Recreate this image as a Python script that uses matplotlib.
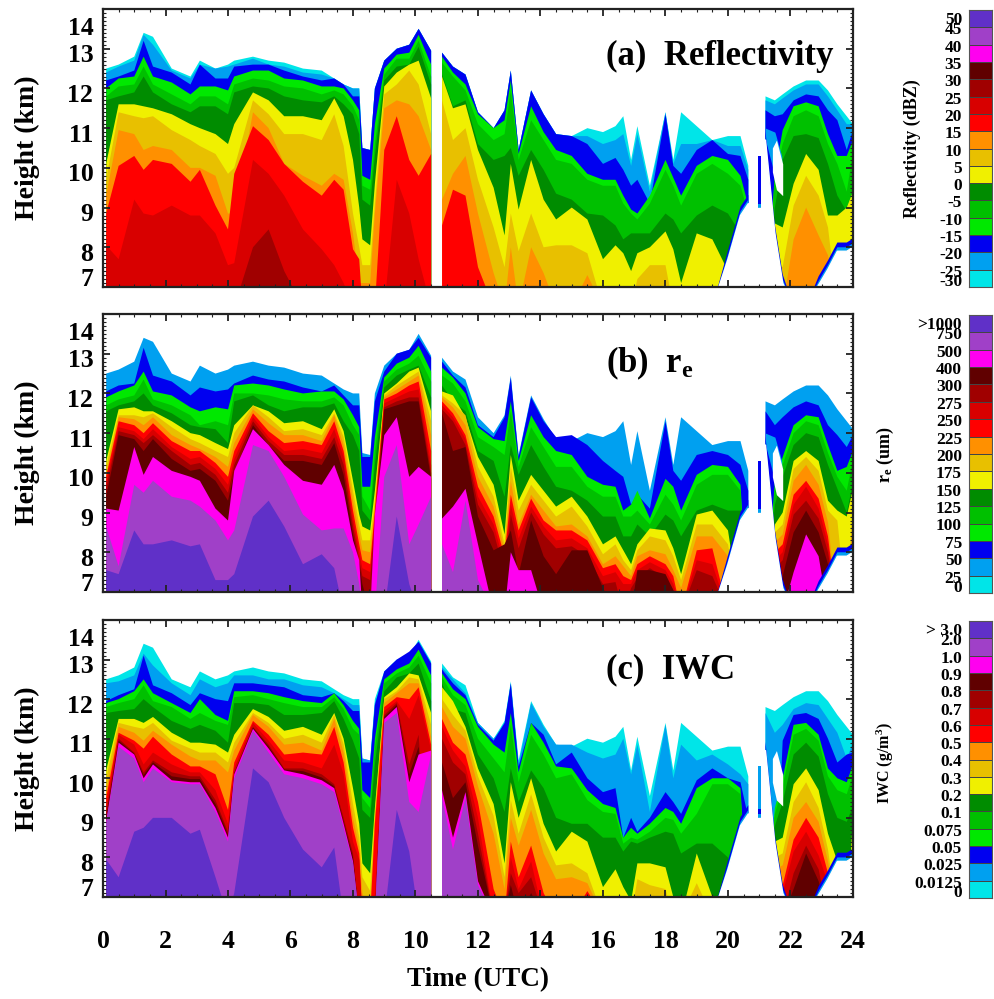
import numpy as np
import matplotlib
matplotlib.use('Agg')
import matplotlib.pyplot as plt
from matplotlib.transforms import ScaledTranslation

plt.rcParams['font.family'] = ['Liberation Serif', 'DejaVu Serif']
plt.rcParams['font.weight'] = 'bold'
plt.rcParams['mathtext.fontset'] = 'custom'
plt.rcParams['mathtext.rm'] = 'Liberation Serif:bold'
plt.rcParams['mathtext.it'] = 'Liberation Serif:bold'
plt.rcParams['mathtext.bf'] = 'Liberation Serif:bold'

N = float('nan')
F = 6.5  # band absent (below the axis)

time_a = [0.1,0.5,1.0,1.3,1.6,2.2,2.8,3.1,3.6,4.0,4.2,4.8,5.3,5.8,6.4,7.0,7.4,7.7,8.0,8.2,8.3,8.55,8.7,9.0,9.4,9.8,10.1,10.5]
time_b = [10.85,11.2,11.6,12.0,12.5,12.85,13.05,13.3,13.7,14.1,14.5,15,15.5,16,16.4,16.65,16.9,17.1,17.5,18,18.25,18.5,19,19.5,20,20.4,20.65]
time_c = [20.95,21.05]
time_d = [21.2,21.5,21.75,22.1,22.5,22.9,23.2,23.5,23.8,24]
times = time_a + [10.7] + time_b + [20.8] + time_c + [21.12] + time_d


def band(a, b=(), c=(), d=()):
    """Join the four time segments; trailing knots not listed have no band."""
    out = []
    for seg, n, gap in ((a, 28, True), (b, 27, True), (c, 2, True), (d, 10, False)):
        seg = list(seg) + [F] * (n - len(seg))
        out += seg + ([N] if gap else [])
    return out[:len(times)]


cloud_top = band(
    [12.5,12.6,12.8,13.4,13.3,12.5,12.3,12.7,12.5,12.6,12.7,12.8,12.7,12.65,12.5,12.45,12.25,12.1,12.0,12.0,10.5,10.45,12.0,12.7,13.0,13.1,13.5,12.95],
    [12.9,12.55,12.35,11.4,11.0,11.45,12.45,10.45,11.95,11.35,10.85,10.8,11.0,10.9,11.05,11.3,10.2,11.05,9.55,11.4,10.2,11.4,11.05,10.7,10.8,10.8,10.05],
    [10.3,10.3],
    [11.8,11.7,11.85,12.05,12.2,12.2,11.95,11.6,11.3,11.1])

cloud_base = band(
    [F]*28,
    [F]*24 + [7.7,8.8,9.1],
    [9.0,9.0],
    [10.7,8.35,7.1,F,F,7.05,7.45,7.9,7.9,8.0])

hole_t = [21.42,21.55,21.75]
hole_top = [10.5,10.7,10.1]
hole_bot = [9.9,9.45,9.3]
patch_t = [21.2,21.5,21.72]
patch_top = [11.0,10.9,10.3]
patch_bot = [10.7,9.8,9.4]

# ---- panel (a) reflectivity
a_lblue = band(
    [12.4,12.55,12.7,13.35,13.1,12.45,12.25,12.6,12.5,12.55,12.6,12.75,12.6,12.55,12.4,12.35,12.25,12.1,12,12,10.5,10.45,12,12.7,13,13.1,13.5,12.95],
    [12.9,12.55,12.35,11.4,11.0,11.45,12.45,10.45,11.95,11.35,10.85,10.8,10.8,10.6,10.7,10.85,10.05,10.85,9.4,11.4,10.1,10.6,10.6,10.7,10.55,10.55,9.95],
    [10.3,10.3],
    [11.7,11.6,11.75,11.95,12.1,12.1,11.8,11.45,11.1,11.1])
a_blue = band(
    [12.2,12.3,12.45,13.2,12.55,12.4,12.1,12.6,12.25,12.25,12.55,12.6,12.6,12.45,12.3,12.2,12.25,12.1,11.8,11.8,10.5,10.45,12,12.7,13,13.1,13.5,12.95],
    [12.9,12.55,12.35,11.4,11.0,11.45,12.45,10.45,11.95,11.35,10.85,10.8,10.6,10.1,10.25,9.95,9.55,9.7,9.1,11.35,10.05,9.85,10.45,10.7,10.35,10.3,9.7],
    [10.3,10.3],
    [11.45,11.3,11.35,11.7,11.85,11.8,11.45,11.2,10.45,10.95])
a_lime = band(
    [12,12.25,12.3,12.8,12.3,12.15,11.85,12.05,12.05,11.95,12.3,12.45,12.45,12.25,12.2,12.05,12.05,12,11.7,11.45,9.8,9.7,11.1,12.5,12.85,12.9,13.35,12.6],
    [12.8,12.4,12.1,11.35,11,11.2,12.2,10.35,11.55,10.9,10.45,10.3,9.85,9.7,9.7,9.3,8.95,8.85,9.3,10.2,9.75,9.3,10.05,10.3,10.2,9.8,9.05],
    [],
    [F,9.85,10.95,11.55,11.65,11.55,10.85,10.3,10.3,10.7])
a_green = band(
    [11.8,12.05,12.1,12.55,12.1,11.85,11.6,11.8,11.8,11.6,12.1,12.25,12.2,12.05,12,11.85,11.95,11.85,11.55,11.2,9.55,9.45,10.6,12.35,12.75,12.75,13.2,12.3],
    [12.65,12.3,11.95,11.1,10.7,10.85,11.95,10.2,11.2,10.7,10.2,10.1,9.7,9.55,9.55,9.1,8.85,8.7,9.1,9.95,9.55,9.05,9.85,10.1,9.85,9.55,8.85],
    [],
    [F,9.7,10.6,11.3,11.45,11.3,10.6,10.1,9.4,10.4])
a_dgreen = band(
    [11.7,11.8,11.9,12.3,11.9,11.6,11.4,11.55,11.55,11.35,11.9,12.05,12,11.8,11.7,11.65,11.8,11.6,11.35,10.85,9.2,9.05,10.3,12.2,12.55,12.6,13.05,12.1],
    [12.35,11.55,11.7,10.6,10.2,10.3,10.5,9.8,10.45,9.95,9.35,9.2,8.85,8.8,8.55,8.2,8.35,8.35,8.35,8.85,8.7,8.35,8.8,9.05,8.85,8.35,F],
    [],
    [F,9.0,10.2,10.8,10.85,10.75,10.1,9.3,8.9,9.3])
a_yellow = band(
    [10.1,11.6,11.6,11.55,11.5,11.35,11.1,11,10.85,10.6,11.1,11.9,11.7,11.3,11.3,11.2,11.75,11.3,10.2,9,8.2,8.05,9.6,12.05,12.4,12.6,12.7,11.75],
    [12.3,11.5,11.6,10.45,9.5,8.3,10.1,8.95,10.2,9.2,8.7,9,8.7,7.7,8.05,7.85,7.4,7.85,8,8.4,7.95,7.1,8.35,8.2,7.4,F,F],
    [],
    [F,8.6,8.5,9.6,10.35,9.95,8.8,8.8,9,9.4])
a_gold = band(
    [9.7,11.4,11.3,11.25,11.3,10.95,10.7,10.55,10.35,9.85,10,11.7,11.35,10.85,10.85,10.7,11.35,10.55,8.85,8,7.55,7.55,9.1,11.85,12.1,12.45,12.1,10.85],
    [11.7,10.7,11,9.7,8.5,7.5,8.85,7.9,8.85,8,8.05,8.05,7.85,F,F,F,F,7.2,7.55,7.55],
    [],
    [F,7.6,7.5,9.05,9.8,9.3,8.5])
a_orange = band(
    [9.3,10.95,10.85,10.45,10.55,10.45,10,10,9.8,8.85,8.85,11.4,11,10.1,9.8,9.55,9.85,9.7,8.35,7.1,7.1,7.1,8.85,11.5,11.7,11.6,11.3,10.45],
    [9.2,9.85,10.3,8.85,7.35,F,8,F,8,7.35,F,F,7.3],
    [],
    [F,F,F,8.2,9.0,8.3,7.8])
a_red = band(
    [8.85,10.05,10.3,9.95,10.2,10.1,9.65,9.95,9.05,8.45,9.85,11.05,10.7,10.1,9.65,9.3,9.7,9.45,7.95,7.7,F,F,F,10.45,11.3,10.2,9.8,10.35],
    [8.55,9.45,9.3,7.5])
a_red2 = band(
    [8.05,7.7,9.2,8.85,8.8,9.05,8.8,8.8,8.35,7.55,7.6,10.2,9.85,9.3,8.45,7.95,7.55,7.1,F,F,F,F,F,F,9.7,8.85,7.7,F])
a_dred = band([F,F,F,F,F,F,F,F,F,F,F,8.0,8.45,7.4])

# ---- panel (b) effective radius
b_blue = band(
    [12.05,12.2,12.25,13.15,12.45,12.3,11.95,12.15,12.05,12.1,12.25,12.45,12.35,12.3,12.15,12.05,12.2,11.95,11.7,11.7,10.4,10.4,11.8,12.55,13,13.1,13.4,12.9],
    [12.8,12.45,12.15,11.2,10.9,11.4,12.4,10.4,11.9,11.3,10.9,10.95,10.7,10.3,10.05,9.9,9.2,9.45,9.1,11.3,10.05,9.8,10.45,10.55,10.45,10.2,9.55],
    [10.3,10.3],
    [11.55,11.2,11.4,11.65,11.8,11.7,11.2,10.95,10.65,10.95])
b_lime = band(
    [11.9,12.05,12.2,12.55,12.05,11.95,11.65,11.55,11.65,11.6,12.2,12.25,12.2,12.1,12,12.05,12.05,11.85,11.45,11.15,9.65,9.65,10.9,12.4,12.75,12.9,13.2,12.55],
    [12.65,12.4,12,11.15,10.85,10.8,11.8,10.3,11.45,10.9,10.55,10.45,9.9,9.7,9.65,9.05,9.2,9.55,8.85,9.85,9.65,9.05,9.95,10.2,10.15,9.7,F],
    [],
    [F,9.8,10.4,11.2,11.45,11.4,10.7,10.05,10.15,10.55])
b_green = band(
    [11.7,11.85,11.95,12.35,11.85,11.7,11.45,11.2,11.3,11.2,12,12,11.95,11.85,11.8,11.8,11.9,11.7,11.2,10.95,9.4,9.05,10.55,12.3,12.6,12.75,12.95,12.3],
    [12.45,12.25,11.8,10.9,10.65,10.45,11.55,10.15,11.15,10.65,10.15,10.15,9.65,9.4,9.4,8.9,8.9,9.05,8.7,9.45,9.2,8.8,9.7,9.95,9.95,9.55,F],
    [],
    [F,9.6,10.2,11,11.3,11.2,10.5,9.9,9.55,10.35])
b_dgreen = band(
    [11.55,11.7,11.8,12,11.7,11.5,11.2,11.15,11.1,10.75,11.8,11.95,11.7,11.55,11.65,11.65,11.75,11.3,10.95,10.55,9.05,8.8,10.2,12.15,12.45,12.6,12.7,11.9],
    [12.2,11.8,11.55,10.55,10.3,9.4,10.7,9.95,10.7,10.15,9.65,9.55,9.3,8.9,8.9,8.4,8.4,8.7,8.4,8.95,8.8,8.4,9.05,9.2,9.05,9.05,F],
    [],
    [F,9.2,9.9,10.7,11,10.9,10.2,9.6,9,9.75])
b_yellow = band(
    [10.3,11.6,11.65,11.55,11.55,11.3,11,10.95,10.75,10.6,11.2,11.7,11.55,11.25,11.3,11.1,11.6,11.05,9.8,8.95,8.65,8.55,9.55,12,12.25,12.55,12.65,11.55],
    [12.05,11.95,11.4,10.4,9.7,8.45,10.45,9.3,9.95,9.55,9.15,9.4,8.9,8.2,8.4,8.05,7.7,8.2,8.6,8.55,8.1,7.45,8.95,9.05,8.55,F,F],
    [],
    [F,8.7,9,10.3,10.55,10.3,9.3,9.05,8.9,9.6])
b_gold = band(
    [10.15,11.45,11.45,11.4,11.5,11.15,10.85,10.75,10.55,10.4,11,11.7,11.4,11.05,11.1,10.95,11.5,10.9,9.55,8.7,8.3,8.3,9.3,11.95,12.2,12.4,12.55,11.3],
    [11.95,11.75,11.45,10.15,9.4,8.2,10.15,9.05,9.7,9.3,8.9,9.15,8.65,7.95,8.2,7.8,7.55,8.05,8.4,8.3,7.9,7.3,8.7,8.7,8.2,F,F],
    [],
    [F,8.5,8.7,10.1,10.4,10.05,9.05,8.8,F,9.3])
b_orange = band(
    [9.95,11.4,11.35,11.2,11.4,10.95,10.7,10.6,10.4,10.15,10.75,11.6,11.25,10.95,10.95,10.8,11.45,10.7,9.3,8.45,8.05,8,9.15,11.9,12.1,12.3,12.45,10.95],
    [11.9,11.65,11.2,9.9,9.15,8.05,9.8,8.7,9.45,9.05,8.65,8.7,8.4,7.7,7.9,7.65,7.4,7.9,8.05,7.95,7.55,7.1,8.4,8.4,7.9,F,F],
    [],
    [F,8.25,8.45,9.8,10.2,9.7,8.75,F,F,8.9])
b_red = band(
    [9.9,11.3,11.2,11,11.25,10.8,10.55,10.55,10.25,9.9,10.55,11.5,11.05,10.75,10.8,10.7,11.3,10.55,9.05,8.2,7.8,7.7,9.05,11.85,12,12.2,12.3,10.55],
    [11.8,11.5,10.95,9.65,8.9,7.9,9.45,8.55,9.35,8.8,8.55,8.55,8.3,7.6,7.7,7.4,7.3,7.7,7.9,7.7,7.4,F,8.05,8.1],
    [],
    [F,8,8.2,9.45,9.8,9.35,8.4])
b_red2 = band(
    [9.75,11.15,11.05,10.85,11.1,10.65,10.35,10.4,10.1,9.7,10.35,11.4,10.9,10.55,10.6,10.5,11.1,10.4,8.85,8,7.6,7.5,8.9,11.75,11.9,12.05,12.1,10.2],
    [11.7,11.4,10.85,9.4,8.7,7.7,9.2,8.35,9.15,8.65,8.3,8.35,8.1,7.4,7.5,7.2,7.2,7.55,7.75,7.55,7.2,F,7.8,7.7],
    [],
    [F,7.8,8,9.2,9.65,9.1,8.2])
b_dred = band(
    [9.6,11.05,10.95,10.75,10.95,10.55,10.2,10.25,9.95,9.5,10.2,11.3,10.8,10.45,10.45,10.35,10.9,10.2,8.65,7.8,7.4,7.3,8.75,11.65,11.8,11.9,11.9,10],
    [11.6,11.3,10.7,9.2,8.5,7.5,8.95,8.1,9,8.45,8.1,8.15,7.9,7.2,7.25,F,7.1,7.35,7.6,7.35,7.05,F,7.55,7.4],
    [],
    [F,7.6,7.8,8.95,9.3,8.85,8])
b_maroon = band(
    [9.4,10.95,10.85,10.55,10.85,10.35,10.05,10.1,9.8,9.3,10,11.2,10.7,10.3,10.3,10.2,10.75,9.95,8.45,7.7,7.2,F,8.5,11.6,11.7,11.8,11.8,9.85],
    [11.5,10.55,10.65,8.9,8.05,8.2,8.55,7.45,8.8,7.9,7.45,8.05,8.05,7.1,F,F,F,7.55,7.55,7.45,7.05],
    [],
    [F,F,7.4,8.5,9.05,8.5,7.7])
b_magenta = band(
    [9.1,9.05,10.65,9.95,10.4,10.05,9.9,9.8,9.1,8.8,10.05,11.1,10.7,10.2,9.8,9.7,10.2,9.55,8.3,7.8,F,F,8.95,10.95,11.4,9.9,10.15,9.9],
    [8.85,9.15,9.6,8.2,F,F,8,7.55,7.55],
    [],
    [F,F,F,7.5,8.45,7.9])
b_purple = band(
    [8.65,7.65,9.7,9.5,9.8,9.4,9.3,9.15,8.8,8.3,8.55,10.7,10.55,9.9,8.95,8.55,8.6,8.6,8,7.2,F,F,F,9.9,10.7,8.2,8.7,9.4],
    [8.2,7.5,9.3,7.3])
b_violet = band(
    [7.55,7.45,8.55,8.2,8.2,8.3,8.15,8.2,7.3,7.3,7.45,8.9,9.3,8.65,7.7,7.95,7.6,F,F,F,F,F,F,F,8.9,7.2,F,F])

# ---- panel (c) ice water content
c_lblue = band(
    [12.4,12.45,12.6,13.15,12.85,12.4,12.1,12.5,12.3,12.4,12.6,12.6,12.5,12.5,12.35,12.3,12.15,12,11.85,11.85,10.5,10.45,11.9,12.6,12.9,13.1,13.45,12.9],
    [12.8,12.5,12.15,11.4,11,11.35,12.4,10.35,11.9,11.3,10.85,10.85,10.65,10.5,10.6,11,10.1,10.85,9.15,11.35,10,10.85,10.45,10.6,10.35,10.1,9.85],
    [10.3,10.3],
    [11.65,11.15,11.35,11.75,11.9,11.85,11.5,11.15,10.5,10.9])
c_blue = band(
    [11.95,12.1,12.25,13.1,12.35,12.15,11.85,12.15,12,11.95,12.4,12.4,12.35,12.3,12.1,12.05,12.15,11.95,11.7,11.7,10.4,10.4,11.85,12.7,13,13.2,13.45,12.9],
    [12.75,12.4,12.1,11.35,10.95,11.4,12.4,10.3,11.4,11.1,10.35,10.65,10,9.65,9.75,8.5,9,8.65,9,9.65,9.4,9.1,9.95,10.25,10,9.9,9],
    [],
    [F,F,10.95,11.6,11.65,11.5,11,10.4,10.6,10.65])
c_lime = band(
    [11.9,12,12.2,12.5,12.15,11.9,11.65,12,11.6,11.45,12.2,12.2,12.15,12.05,11.95,11.9,12.15,11.85,11.45,11.25,9.7,9.5,11,12.5,12.75,12.9,13.25,12.6],
    [12.65,12.25,12,11.3,10.85,10.65,11.65,10.15,11.4,10.9,10.3,10.25,9.7,9.35,9.25,8.5,8.75,8.6,8.85,9.25,9.15,8.85,9.75,10,10,9.75,F],
    [],
    [F,9.25,10,11.35,11.4,11.1,10.25,10,9.9,10.35])
c_green = band(
    [11.8,11.9,12,12.35,11.95,11.8,11.5,11.65,11.45,11.35,12.05,12.1,12,11.9,11.8,11.8,12.05,11.75,11.25,11.1,9.5,9.25,10.75,12.4,12.65,12.8,13.1,12.4],
    [12.55,12.1,11.85,11,10.5,10.15,11.35,9.9,11.1,10.6,10,10.1,9.45,9.15,9.1,8.35,8.5,8.45,8.65,9,8.95,8.6,9.1,9.85,9.85,9.6,F],
    [],
    [F,9.1,9.8,11.1,11.25,10.95,10.05,9.7,9.6,10.1])
c_dgreen = band(
    [11.65,11.7,11.75,12,11.8,11.45,11.25,11.35,11.2,10.9,11.9,11.9,11.85,11.6,11.6,11.65,11.95,11.5,10.95,10.5,9.2,9,10.35,12.2,12.55,12.65,12.9,11.95],
    [12.4,11.75,11.65,10.6,10,9.15,10.25,9.4,10.2,9.75,9,8.85,8.85,8.5,8.5,8.15,8.4,8.35,8.5,8.65,8.6,8.1,8.35,8.35,8,F,F],
    [],
    [F,8.8,9.4,10.6,10.9,10.55,9.6,9,8.9,9.3])
c_yellow = band(
    [10.2,11.5,11.5,11.4,11.55,11.15,10.9,10.9,10.85,10.65,11.1,11.75,11.55,11.2,11.3,11.1,11.65,11,9.75,8.85,7.85,7.6,9.25,12.05,12.3,12.65,12.6,11.65],
    [12.3,11.95,11.3,10.25,9.35,7.85,9.9,9,10,8.85,8.15,8.65,8.4,7.25,7.7,7.25,6.9,7.85,7.85,7.75,7,F,8.1,7],
    [],
    [F,8.4,8.5,9.85,10.25,9.7,8.6,7.9,F,9])
c_gold = band(
    [10,11.4,11.3,11.25,11.4,10.95,10.75,10.65,10.65,10.4,10.9,11.65,11.4,11,11.1,10.9,11.6,10.85,9.35,8.5,7.5,7.15,9.1,12,12.2,12.55,12.5,11.35],
    [12,11.6,11.2,10.05,9.05,7.5,9.45,8.6,9.6,8.5,7.8,7.85,7.6,F,F,F,F,7.45,7.3,7.2,F,F,7.35],
    [],
    [F,8,8.1,9.4,9.9,9.25,8.2])
c_orange = band(
    [9.65,11.3,11.15,10.95,11.2,10.85,10.55,10.45,10.45,10.15,10.7,11.6,11.3,10.85,10.9,10.7,11.5,10.65,9,8.25,7.1,F,8.95,11.9,12.15,12.4,12.4,11.05],
    [11.8,11.3,11,9.8,8.6,7.2,9,8.3,9.2,8.1,7.45,7.5,7.35],
    [],
    [F,7.7,7.8,9,9.4,8.9,7.9])
c_red = band(
    [9.5,11.15,10.95,10.75,11.05,10.6,10.3,10.3,10.1,9.2,10.4,11.45,11.1,10.6,10.65,10.6,11.3,10.4,8.75,8.1,F,F,8.85,11.8,12.05,12,12.3,10.85],
    [11.5,10.9,10.6,9.4,7.2,F,8.4,7.5,8.3,7.1,F,F,7.15],
    [],
    [F,7.4,7.3,8.45,9,8.5,7.6])
c_red2 = band(
    [9.25,11.1,10.85,10.35,10.65,10.35,10.15,10.15,9.7,8.85,10.25,11.4,10.95,10.45,10.4,10.25,10.85,10.1,8.4,7.95,F,F,7,11.7,11.95,11.5,12.1,10.7],
    [11.3,10.7,10.3,9,F,F,8,7.2,7.9],
    [],
    [F,F,7.1,8.15,8.65,8.05,7.35])
c_dred = band(
    [9.1,11,10.65,10.15,10.45,10.15,10.05,10.05,9.45,8.65,10.15,11.3,10.85,10.25,10.25,10.1,9.85,9,8.1,F,F,F,F,11.6,11.9,10.35,11.1,F],
    [11,10.4,10.1,8.6,F,F,7.6,7.1,7.5],
    [],
    [F,F,F,7.6,8.3,7.7])
c_maroon = band(
    [9,10.95,10.62,10.08,10.4,10.05,9.98,9.98,9.35,8.58,10.12,11.28,10.8,10.22,10.18,10.02,9.8,8.9,8,F,F,F,F,11.55,11.85,10.1,10.8,F],
    [10.4,9.5,9.9,8.3,F,F,7.3,F,7.1],
    [],
    [F,F,F,7.2,8.1,7.4])
c_magenta = band(
    [8.9,10.9,10.6,10,10.35,9.95,9.9,9.9,9.25,8.5,10.1,11.25,10.75,10.2,10.1,9.95,9.75,8.85,7.9,F,F,F,F,11.5,11.8,9.9,10.6,10.7],
    [9.7,8.5,9.65,7.4])
c_purple = band(
    [8.85,10.8,10.5,9.9,10.25,9.9,9.85,9.85,9.15,8.4,10,11.2,10.65,10.1,10,9.85,9.65,8.75,7.85,F,F,F,F,11.4,11.65,9.4,9.15,10.6],
    [9.5,8.2,9.5,7.3])
c_violet = band(
    [7.95,7.5,8.65,8.75,9,9,8.6,8.7,7.5,F,7.1,10.25,9.9,9,8.2,7.75,8.25,F,F,F,F,F,F,F,9.2,8.15,F,F])

colors = {
    'cyan': '#00e5e8', 'lblue': '#00a0f0', 'blue': '#0000f0', 'lime': '#00e800',
    'green': '#00c000', 'dgreen': '#008c00', 'yellow': '#f0f000', 'gold': '#e8c000',
    'orange': '#ff9000', 'red': '#ff0000', 'red2': '#d80000', 'dred': '#a00000',
    'maroon': '#600000', 'magenta': '#ff00f0', 'purple': '#a040c8', 'violet': '#6030c8',
}
color_order = list(colors.values())

panel_a = [('cyan', cloud_top), ('lblue', a_lblue), ('blue', a_blue), ('lime', a_lime),
           ('green', a_green), ('dgreen', a_dgreen), ('yellow', a_yellow), ('gold', a_gold),
           ('orange', a_orange), ('red', a_red), ('red2', a_red2), ('dred', a_dred)]
panel_b = [('lblue', cloud_top), ('blue', b_blue), ('lime', b_lime), ('green', b_green),
           ('dgreen', b_dgreen), ('yellow', b_yellow), ('gold', b_gold), ('orange', b_orange),
           ('red', b_red), ('red2', b_red2), ('dred', b_dred), ('maroon', b_maroon),
           ('magenta', b_magenta), ('purple', b_purple), ('violet', b_violet)]
panel_c = [('cyan', cloud_top), ('lblue', c_lblue), ('blue', c_blue), ('lime', c_lime),
           ('green', c_green), ('dgreen', c_dgreen), ('yellow', c_yellow), ('gold', c_gold),
           ('orange', c_orange), ('red', c_red), ('red2', c_red2), ('dred', c_dred),
           ('maroon', c_maroon), ('magenta', c_magenta), ('purple', c_purple), ('violet', c_violet)]

cb_a = ['-30','-25','-20','-15','-10','-5','0','5','10','15','20','25','30','35','40','45','50']
cb_b = ['0','25','50','75','100','125','150','175','200','225','250','275','300','400','500','750','>1000']
cb_c = ['0','0.0125','0.025','0.05','0.075','0.1','0.2','0.3','0.4','0.5','0.6','0.7','0.8','0.9','1.0','2.0','> 3.0']
height_ticks = [7, 8, 9, 10, 11, 12, 13, 14]
height_label_shift = [-10, 4.5, 4.5, 4.5, 4.5, 4.5, 4.5, 17]
time_ticks = list(range(0, 25, 2))

W, H = 994, 999
fig = plt.figure(figsize=(W / 100, H / 100), dpi=100)


def px_axes(x0, y0, x1, y1):
    return fig.add_axes([x0 / W, 1 - y1 / H, (x1 - x0) / W, (y1 - y0) / H])


t = np.array(times)
base = np.array(cloud_base)
top = np.array(cloud_top)
panels = [
    (panel_a, (9, 287), (10, 287), cb_a, '(a)  Reflectivity', 'Reflectivity (dBZ)', 912, 149, 13, 12.8, True),
    (panel_b, (314, 592), (315, 593), cb_b, '(b)  r$_{\\mathrm{e}}$', 'r$_{\\mathrm{e}}$ (um)', 885, 455, 13, 12.75, True),
    (panel_c, (620, 897), (621, 898), cb_c, '(c)  IWC', 'IWC (g/m$^{3}$)', 885, 763, 11.5, 12.75, False),
]
for i, (bands, (ytop, ybot), (cbt, cbb), labels, title, cblabel, lx, ly, lsize, ty, has_patch) in enumerate(panels):
    ax = px_axes(103, ytop, 853, ybot)
    for name, series in bands:
        ax.fill_between(t, F, series, color=colors[name], lw=0)
    if has_patch:
        ax.fill_between(patch_t, patch_bot, patch_top, color=colors['lblue'], lw=0)
    rim = np.minimum(base + 0.22, top)
    ax.fill_between(t, base, np.where(base > 6.6, rim, base), color=colors['blue'], lw=0)
    rim = np.minimum(base + 0.1, top)
    ax.fill_between(t, base, np.where(base > 6.6, rim, base), color=colors['lblue'], lw=0)
    ax.fill_between(t, F, base, facecolor='white', edgecolor='white', lw=1.0)
    ax.fill_between(hole_t, hole_bot, hole_top, color='white', lw=0)
    ax.set_xlim(0, 24)
    ax.set_ylim(7, 14)
    ax.set_xticks(time_ticks)
    ax.set_xticks(np.arange(0, 24.01, 0.5), minor=True)
    ax.set_yticks(height_ticks)
    ax.set_yticks(np.arange(7, 14.01, 0.1), minor=True)
    ax.tick_params(which='major', direction='in', length=5, width=1.3, top=True, right=True, color='#222222')
    ax.tick_params(which='minor', direction='in', length=2.5, width=0.8, top=True, right=True, color='#222222')
    ax.tick_params(axis='y', labelsize=18.5, pad=7)
    ax.tick_params(axis='x', labelsize=18.5, pad=24)
    for s in ax.spines.values():
        s.set_linewidth(1.6)
        s.set_color('#222222')
    for lab, shift in zip(ax.get_yticklabels(), height_label_shift):
        lab.set_transform(lab.get_transform() + ScaledTranslation(0, -shift / 100, fig.dpi_scale_trans))
    if i < 2:
        ax.set_xticklabels([])
    else:
        ax.set_xlabel('Time (UTC)', fontsize=19.5, fontweight='bold', labelpad=10)
    fig.text(27 / W, 1 - ((ytop + ybot) / 2) / H, 'Height (km)', rotation=90,
             ha='center', va='center', fontsize=20, fontweight='bold')
    ax.text(16.1, ty, title, fontsize=25, fontweight='bold', ha='left', va='center')

    cax = px_axes(969, cbt, 992, cbb)
    cax.pcolormesh([0, 1], np.arange(17), np.arange(16).reshape(-1, 1),
                   cmap=matplotlib.colors.ListedColormap(color_order), vmin=-0.5, vmax=15.5,
                   edgecolors='#444444', linewidth=0.5)
    cax.set_xticks([])
    cax.set_yticks([])
    for s in cax.spines.values():
        s.set_linewidth(0.8)
        s.set_color('#555555')
    for k, lab in enumerate(labels):
        dy = -3
        if k == 16:
            dy = -10
        elif k == 0:
            dy = 5
        cax.annotate(lab, xy=(0, k), xycoords=('axes fraction', 'data'),
                     xytext=(-5, dy * 0.72), textcoords='offset points',
                     ha='right', va='center', fontsize=12.5, fontweight='bold',
                     annotation_clip=False)
    fig.text(lx / W, 1 - ly / H, cblabel, rotation=90, ha='center', va='center',
             fontsize=lsize, fontweight='bold')

fig.savefig('out.png', dpi=100)
